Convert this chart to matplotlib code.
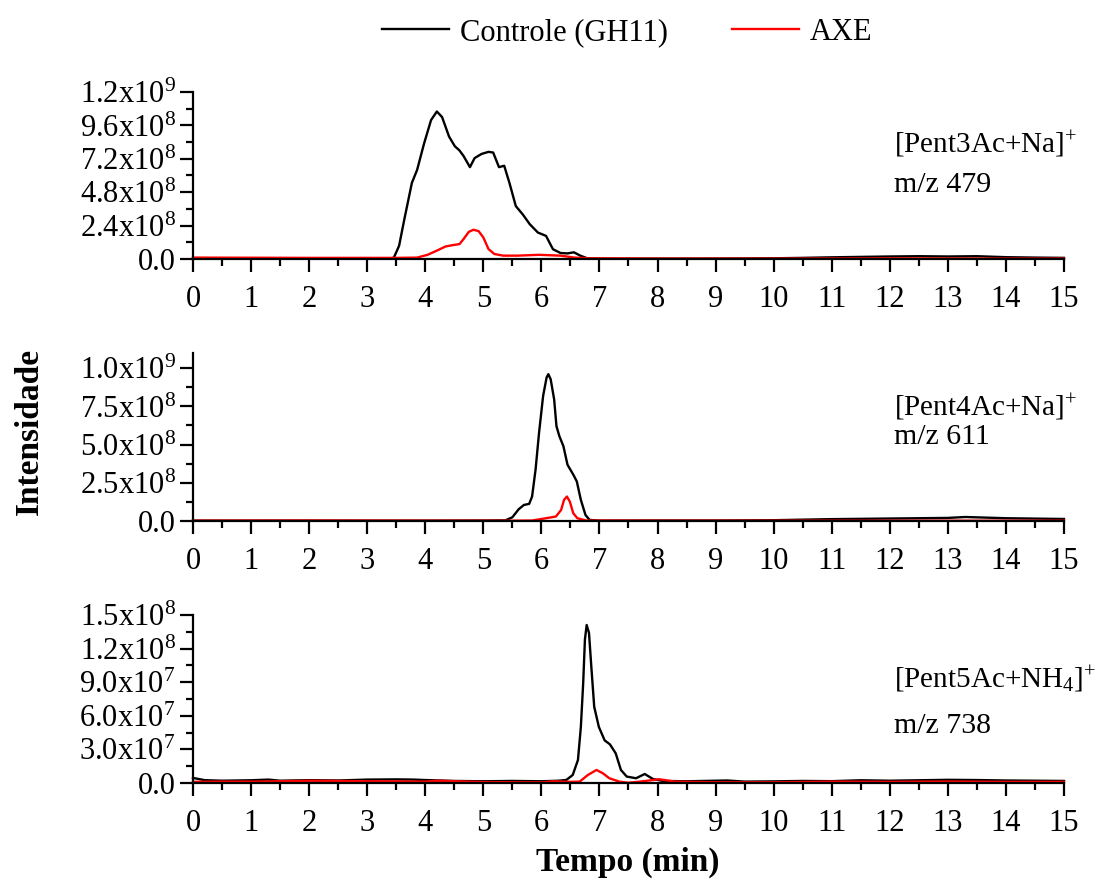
import matplotlib
matplotlib.use("Agg")
import matplotlib.pyplot as plt
import numpy as np

plt.rcParams['font.family'] = ['Liberation Serif', 'DejaVu Serif']
plt.rcParams['mathtext.fontset'] = 'custom'
plt.rcParams['mathtext.rm'] = 'Liberation Serif'
plt.rcParams['mathtext.it'] = 'Liberation Serif:italic'
plt.rcParams['mathtext.bf'] = 'Liberation Serif:bold'

# --- Pent3Ac (m/z 479), intensities in units of 1e8
p3_ctrl_t = [0, 1, 2, 3, 3.40, 3.46, 3.55, 3.64, 3.77, 3.86, 3.98, 4.10, 4.20, 4.29, 4.41, 4.51,
             4.59, 4.66, 4.77, 4.85, 4.97, 5.09, 5.17, 5.27, 5.36, 5.45, 5.56, 5.68, 5.80,
             5.94, 6.08, 6.20, 6.33, 6.45, 6.56, 6.67, 6.79, 7.0, 8, 9, 10, 10.5, 11, 11.5,
             12, 12.5, 13, 13.5, 14, 14.5, 15]
p3_ctrl_i = [0.02, 0.02, 0.02, 0.02, 0.03, 0.10, 0.95, 2.85, 5.47, 6.40, 8.30, 9.98, 10.6, 10.2,
             8.80, 8.10, 7.80, 7.40, 6.60, 7.25, 7.55, 7.70, 7.65, 6.60, 6.70, 5.47, 3.80,
             3.20, 2.50, 1.90, 1.66, 0.70, 0.43, 0.40, 0.48, 0.24, 0.05, 0.02, 0.02, 0.03,
             0.05, 0.08, 0.12, 0.15, 0.18, 0.20, 0.18, 0.20, 0.13, 0.10, 0.08]
p3_axe_t = [0, 1, 2, 3, 3.5, 3.86, 4.04, 4.20, 4.35, 4.48, 4.59, 4.66, 4.75, 4.83, 4.92, 5.00,
            5.09, 5.19, 5.34, 5.59, 5.96, 6.33, 6.57, 6.82, 8, 10, 12, 14, 15]
p3_axe_i = [0.10, 0.09, 0.08, 0.08, 0.08, 0.10, 0.30, 0.60, 0.90, 1.00, 1.07, 1.43, 1.95, 2.10,
            2.00, 1.55, 0.71, 0.36, 0.24, 0.24, 0.30, 0.24, 0.10, 0.05, 0.03, 0.03, 0.04,
            0.03, 0.03]

# --- Pent4Ac (m/z 611), intensities in units of 1e8
p4_ctrl_t = [0, 2, 4, 5.03, 5.38, 5.50, 5.61, 5.70, 5.79, 5.84, 5.90, 5.96, 6.03, 6.09, 6.12,
             6.16, 6.22, 6.26, 6.31, 6.38, 6.45, 6.55, 6.61, 6.68, 6.76, 6.83, 7.0, 8, 9, 10,
             11, 12, 13, 13.3, 14, 15]
p4_ctrl_i = [0.02, 0.02, 0.02, 0.03, 0.04, 0.24, 0.77, 1.05, 1.12, 1.60, 3.36, 5.77, 8.18, 9.39,
             9.61, 9.28, 7.96, 6.20, 5.55, 4.89, 3.68, 3.03, 2.59, 1.38, 0.39, 0.07, 0.02,
             0.03, 0.03, 0.05, 0.12, 0.16, 0.20, 0.26, 0.18, 0.13]
p4_axe_t = [0, 2, 4, 5.5, 5.84, 6.08, 6.25, 6.34, 6.39, 6.44, 6.49, 6.55, 6.62, 6.77, 8, 10,
            12, 15]
p4_axe_i = [0.02, 0.03, 0.02, 0.02, 0.03, 0.18, 0.29, 0.72, 1.38, 1.60, 1.27, 0.50, 0.18, 0.03,
            0.02, 0.02, 0.02, 0.02]

# --- Pent5Ac (m/z 738), intensities in units of 1e7
p5_ctrl_t = [0, 0.2, 0.5, 1, 1.3, 1.5, 2, 2.5, 3, 3.5, 3.8, 4, 4.5, 5, 5.5, 6, 6.3, 6.43, 6.54,
             6.63, 6.68, 6.72, 6.75, 6.78, 6.82, 6.86, 6.91, 6.99, 7.09, 7.18, 7.28, 7.37,
             7.47, 7.63, 7.78, 7.92, 8.09, 8.5, 9, 9.2, 9.5, 10, 10.5, 11, 11.5, 12, 12.5,
             13, 13.5, 14, 14.5, 15]
p5_ctrl_i = [0.45, 0.25, 0.20, 0.24, 0.30, 0.20, 0.25, 0.22, 0.30, 0.32, 0.30, 0.26, 0.18, 0.15,
             0.18, 0.15, 0.20, 0.27, 0.71, 2.05, 5.00, 8.90, 12.8, 14.1, 13.4, 10.4, 6.80,
             5.00, 3.80, 3.45, 2.65, 1.16, 0.57, 0.42, 0.80, 0.36, 0.18, 0.15, 0.20, 0.22,
             0.12, 0.14, 0.18, 0.16, 0.24, 0.20, 0.24, 0.28, 0.26, 0.22, 0.20, 0.18]
p5_axe_t = [0, 0.5, 1, 1.5, 2, 2.5, 3, 3.5, 4, 4.2, 5, 6, 6.2, 6.5, 6.66, 6.80, 6.95, 7.06,
            7.17, 7.34, 7.5, 7.7, 8.03, 8.3, 9, 10, 11, 12, 13, 14, 15]
p5_axe_i = [0.10, 0.12, 0.12, 0.15, 0.20, 0.18, 0.15, 0.14, 0.12, 0.20, 0.08, 0.05, 0.15, 0.10,
            0.12, 0.71, 1.16, 0.86, 0.42, 0.12, 0.02, 0.12, 0.33, 0.12, 0.06, 0.06, 0.12,
            0.10, 0.13, 0.10, 0.10]

panels = [
    dict(ctrl=(p3_ctrl_t, p3_ctrl_i), axe=(p3_axe_t, p3_axe_i), scale=1e8,
         ymax=1.2e9, yticks=[0, 2.4e8, 4.8e8, 7.2e8, 9.6e8, 1.2e9],
         ylabels=['0.0', r'2.4x10$^{8}$', r'4.8x10$^{8}$', r'7.2x10$^{8}$',
                  r'9.6x10$^{8}$', r'1.2x10$^{9}$'],
         ion=r'[Pent3Ac+Na]$^{+}$', mz='m/z 479'),
    dict(ctrl=(p4_ctrl_t, p4_ctrl_i), axe=(p4_axe_t, p4_axe_i), scale=1e8,
         ymax=1.1e9, yticks=[0, 2.5e8, 5.0e8, 7.5e8, 1.0e9],
         ylabels=['0.0', r'2.5x10$^{8}$', r'5.0x10$^{8}$', r'7.5x10$^{8}$',
                  r'1.0x10$^{9}$'],
         ion=r'[Pent4Ac+Na]$^{+}$', mz='m/z 611'),
    dict(ctrl=(p5_ctrl_t, p5_ctrl_i), axe=(p5_axe_t, p5_axe_i), scale=1e7,
         ymax=1.5e8, yticks=[0, 3.0e7, 6.0e7, 9.0e7, 1.2e8, 1.5e8],
         ylabels=['0.0', r'3.0x10$^{7}$', r'6.0x10$^{7}$', r'9.0x10$^{7}$',
                  r'1.2x10$^{8}$', r'1.5x10$^{8}$'],
         ion=r'[Pent5Ac+NH$_{4}$]$^{+}$', mz='m/z 738'),
]

fig = plt.figure(figsize=(11.02, 8.83), dpi=100)

# axes boxes (left, bottom, width, height) in figure fraction
boxes = [(0.1751, 0.7067, 0.7904, 0.1891),
         (0.1751, 0.4100, 0.7904, 0.1903),
         (0.1751, 0.1133, 0.7904, 0.1903)]
# text anchor heights for the ion / m/z labels
text_y = [(0.836, 0.790), (0.538, 0.505), (0.230, 0.178)]

fs = 22
axes = []
for p, box, (yi, ym) in zip(panels, boxes, text_y):
    ax = fig.add_axes(box)
    t, i = p['ctrl']
    l1, = ax.plot(t, np.array(i) * p['scale'], color='black', lw=1.7,
                  clip_on=False, label='Controle (GH11)')
    t, i = p['axe']
    l2, = ax.plot(t, np.array(i) * p['scale'], color='#ff0000', lw=1.7,
                  clip_on=False, label='AXE')
    ax.set_xlim(0, 15)
    ax.set_ylim(0, p['ymax'])
    ax.set_xticks(range(16))
    ax.set_xticks(np.arange(0.5, 15, 1.0), minor=True)
    ax.set_yticks(p['yticks'])
    ax.set_yticklabels(p['ylabels'])
    step = p['yticks'][1] / 2
    ax.set_yticks(np.arange(step, p['ymax'] + 1, 2 * step), minor=True)
    for s in ['top', 'right']:
        ax.spines[s].set_visible(False)
    for s in ['left', 'bottom']:
        ax.spines[s].set_linewidth(1.6)
    ax.tick_params(which='major', direction='out', length=9.5, width=1.6,
                   labelsize=fs)
    ax.tick_params(axis='x', which='major', pad=9)
    ax.tick_params(axis='y', which='major', pad=3)
    ax.tick_params(which='minor', direction='out', length=5, width=1.6)
    fig.text(0.811, yi, p['ion'], fontsize=21, va='center', ha='left')
    fig.text(0.811, ym, p['mz'], fontsize=21.5, va='center', ha='left')
    axes.append((ax, l1, l2))

_, h1, h2 = axes[0]
fig.legend(handles=[h1, h2], loc='center', bbox_to_anchor=(0.569, 0.963),
           ncol=2, frameon=False, fontsize=fs, handlelength=2.2,
           handletextpad=0.35, columnspacing=2.1)

fig.text(0.027, 0.511, 'Intensidade', rotation=90, fontsize=24,
         fontweight='bold', ha='center', va='center')
fig.text(0.570, 0.023, 'Tempo (min)', fontsize=24, fontweight='bold',
         ha='center', va='center')

fig.savefig('out.png', dpi=100)
